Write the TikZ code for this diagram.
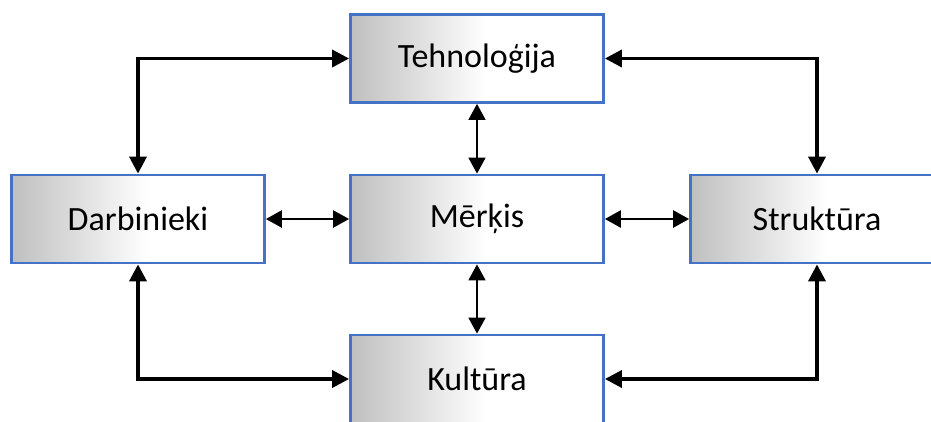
\documentclass[tikz,border=0pt]{standalone}
\usepackage{fontspec}
\setmainfont{Carlito}
\usetikzlibrary{arrows.meta}
\definecolor{boxblue}{HTML}{4472C4}
\pgfdeclarehorizontalshading{boxshade}{100bp}{color(0bp)=(black!25); color(25bp)=(black!25); color(52bp)=(white); color(100bp)=(white)}
\tikzset{
  box/.style={draw=boxblue, line width=2.8pt, shading=boxshade, minimum width=253pt, minimum height=88pt, inner sep=0pt, font=\fontsize{34}{40}\selectfont, text=black},
  bigarrow/.style={line width=3.6pt, {Triangle[length=17pt,width=17pt]}-{Triangle[length=17pt,width=17pt]}},
  midharrow/.style={line width=2.6pt, {Triangle[length=16pt,width=17pt]}-{Triangle[length=16pt,width=17pt]}},
  midvarrow/.style={line width=1.6pt, {Triangle[length=16pt,width=17pt]}-{Triangle[length=16pt,width=17pt]}}
}
\begin{document}
\begin{tikzpicture}[x=1pt,y=-1pt]
\useasboundingbox (0,0) rectangle (931,421);
\clip (0,0) rectangle (931,421);
\fill[white] (0,0) rectangle (931,421);
\node[box] (T) at (477,58.5) {Tehnoloģija};
\node[box] (M) at (477,219) {Mērķis};
\node[box] (D) at (138,219) {Darbinieki};
\node[box] (S) at (817,219) {Struktūra};
\node[box] (K) at (477,379) {Kultūra};
\draw[bigarrow] (D.north) |- (T.west);
\draw[bigarrow] (T.east) -| (S.north);
\draw[bigarrow] (D.south) |- (K.west);
\draw[bigarrow] (K.east) -| (S.south);
\draw[midharrow] (D.east) -- (M.west);
\draw[midharrow] (M.east) -- (S.west);
\draw[midvarrow] (T.south) -- (M.north);
\draw[midvarrow] (M.south) -- (K.north);
\end{tikzpicture}
\end{document}
